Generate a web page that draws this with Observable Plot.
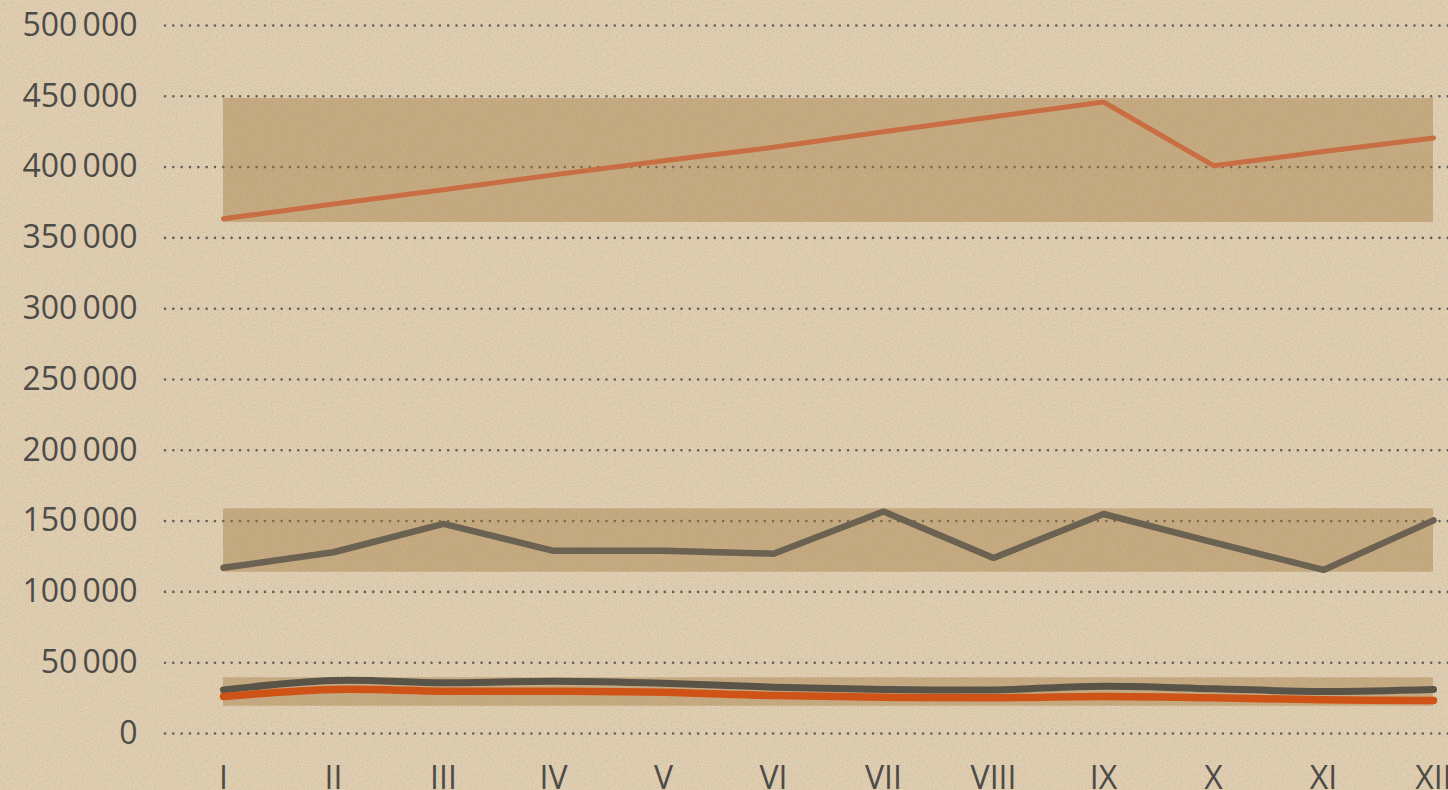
<!DOCTYPE html>
<html>
<head>
<meta charset="utf-8">
<script src="https://cdn.jsdelivr.net/npm/d3@7"></script>
<script src="https://cdn.jsdelivr.net/npm/@observablehq/plot@0.6"></script>
<style>
  html, body { margin: 0; padding: 0; width: 1448px; height: 790px; overflow: hidden; }
  body {
    background-color: #e0d0b6;
    background-image: url("data:image/svg+xml,%3Csvg xmlns='http://www.w3.org/2000/svg' width='400' height='400'%3E%3Cfilter id='n'%3E%3CfeTurbulence type='fractalNoise' baseFrequency='0.8' numOctaves='3' stitchTiles='stitch'/%3E%3CfeColorMatrix values='0 0 0 0 0.62  0 0 0 0 0.48  0 0 0 0 0.28  0 0 0 1.5 -0.55'/%3E%3C/filter%3E%3Crect width='100%25' height='100%25' filter='url(%23n)'/%3E%3C/svg%3E");
  }
  #chart svg { display: block; background: transparent; }
</style>
</head>
<body>
<div id="chart"></div>
<script>
// ---- data ----
const months = ["I","II","III","IV","V","VI","VII","VIII","IX","X","XI","XII"];
const yTicks = [0, 50000, 100000, 150000, 200000, 250000, 300000, 350000, 400000, 450000, 500000];

const upperOrange  = [363500, 374000, 384000, 394500, 404500, 414000, 425000, 435500, 446000, 401000, 411000, 420500];
const middleGrey   = [117000, 128000, 148000, 129000, 129000, 127000, 156800, 124000, 155000, 135000, 115500, 150500];
const bottomGrey   = [30800, 37400, 35800, 36900, 35500, 32700, 31100, 30800, 33400, 31600, 29700, 31100];
const bottomOrange = [26100, 31100, 29900, 29900, 29200, 26800, 25600, 25200, 26100, 25200, 23800, 23300];

const bandNames = ["upper", "middle", "bottom"];
const bandLow   = [360900, 113900, 19300];
const bandHigh  = [448400, 158700, 39300];

// ---- tables built from the arrays ----
const toRows = (vals) => months.map((m, i) => ({month: m, value: vals[i]}));
const bandRows = bandNames.flatMap((b, j) =>
  months.map(m => ({band: b, month: m, lo: bandLow[j], hi: bandHigh[j]})));

const fmt = d => d3.format(",")(d).replace(/,/g, "\u2009");

const chart = Plot.plot({
  width: 1448,
  height: 790,
  marginLeft: 165,
  marginRight: 0,
  marginTop: 25,
  marginBottom: 57,
  style: {background: "transparent", fontFamily: "'Open Sans', sans-serif", fontSize: "32px", color: "#4d4b48"},
  x: {type: "point", domain: months, padding: 0, insetLeft: 55, insetRight: 13, label: null},
  y: {domain: [0, 500000], label: null},
  marks: [
    Plot.ruleY(yTicks, {stroke: "#55524d", strokeWidth: 2.6, strokeDasharray: "0 8.33", strokeLinecap: "round", strokeOpacity: 0.9}),
    Plot.areaY(bandRows, {x: "month", y1: "lo", y2: "hi", z: "band", fill: "#a27940", fillOpacity: 0.42, curve: "linear"}),
    Plot.lineY(toRows(upperOrange), {x: "month", y: "value", stroke: "#c96e42", strokeWidth: 5, strokeLinejoin: "miter"}),
    Plot.lineY(toRows(middleGrey), {x: "month", y: "value", stroke: "#6b6252", strokeWidth: 6.5, strokeLinejoin: "miter"}),
    Plot.lineY(toRows(bottomGrey), {x: "month", y: "value", stroke: "#5a5448", strokeWidth: 7, curve: "catmull-rom"}),
    Plot.lineY(toRows(bottomOrange), {x: "month", y: "value", stroke: "#cf5216", strokeWidth: 7.5, curve: "catmull-rom"}),
    Plot.axisY(yTicks, {tickSize: 0, tickPadding: 28, tickFormat: fmt, fill: "#4d4b48"}),
    Plot.axisX(months, {tickSize: 0, tickPadding: 33, fill: "#4d4b48"})
  ]
});
document.getElementById("chart").append(chart);
</script>
</body>
</html>
